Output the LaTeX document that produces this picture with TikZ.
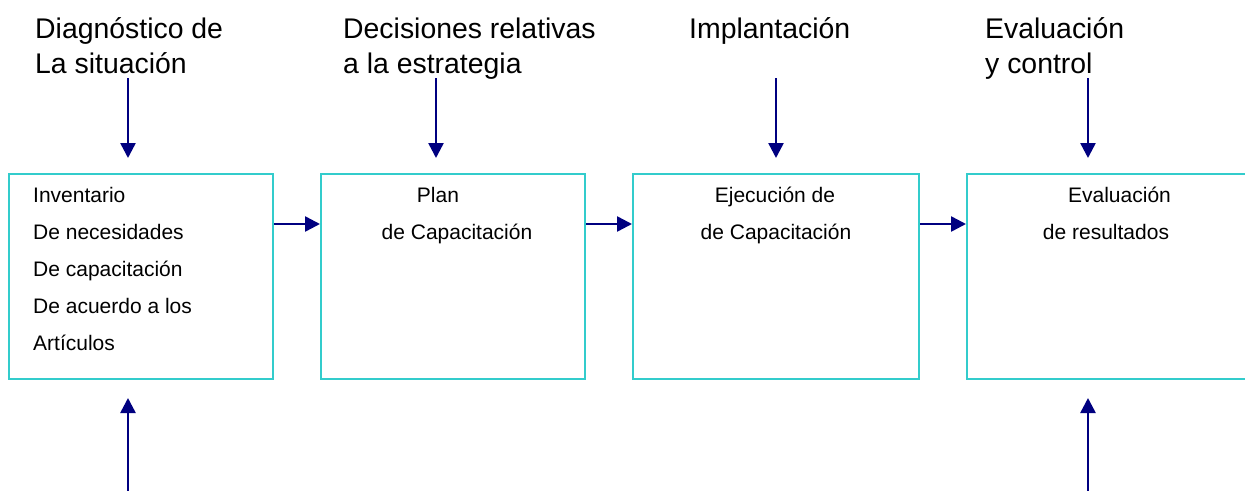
\documentclass[tikz,border=0pt]{standalone}
\usepackage{fontspec}
\setmainfont{Liberation Sans}
\usetikzlibrary{arrows.meta}
\definecolor{boxc}{HTML}{33CCCC}
\definecolor{arr}{HTML}{000080}
\begin{document}
\begin{tikzpicture}[x=1pt,y=-1pt,
  box/.style={draw=boxc,line width=2pt,anchor=north west,inner sep=0pt,minimum height=205pt},
  head/.style={anchor=base west,inner sep=0pt,font=\fontsize{28.4}{34}\selectfont},
  ltxt/.style={anchor=base west,inner sep=0pt,font=\fontsize{21}{25}\selectfont},
  ctxt/.style={anchor=base,inner sep=0pt,font=\fontsize{21}{25}\selectfont},
  conn/.style={draw=arr,line width=2.5pt,-{Triangle[length=15pt,width=15pt]}}]
\useasboundingbox (0,0) rectangle (1245,490);
\clip (0,0) rectangle (1245,490);
% boxes
\node[box,minimum width=264pt] (b1) at (8,173) {};
\node[box,minimum width=264pt] (b2) at (320,173) {};
\node[box,minimum width=286pt] (b3) at (632,173) {};
\node[box,minimum width=300pt] (b4) at (966,173) {};
% headings
\node[head] (h1a) at (35,38) {Diagnóstico de};
\node[head] (h1b) at (35,73) {La situación};
\node[head] (h2a) at (343,38) {Decisiones relativas};
\node[head] (h2b) at (343,73) {a la estrategia};
\node[head] (h3a) at (689,38) {Implantación};
\node[head] (h4a) at (985,38) {Evaluación};
\node[head] (h4b) at (985,73) {y control};
% box texts
\node[ltxt] (t11) at (33,202) {Inventario};
\node[ltxt] (t12) at (33,239) {De necesidades};
\node[ltxt] (t13) at (33,276) {De capacitación};
\node[ltxt] (t14) at (33,313) {De acuerdo a los};
\node[ltxt] (t15) at (33,350) {Artículos};
\node[ctxt] (t21) at (438,202) {Plan};
\node[ctxt] (t22) at (457,239) {de Capacitación};
\node[ctxt] (t31) at (775,202) {Ejecución de};
\node[ctxt] (t32) at (776,239) {de Capacitación};
\node[ctxt] (t41) at (1119.5,202) {Evaluación};
\node[ctxt] (t42) at (1106,239) {de resultados};
% horizontal connectors
\coordinate (hy) at (0,224);
\draw[conn] (b1.east |- hy) -- (b2.west |- hy);
\draw[conn] (b2.east |- hy) -- (b3.west |- hy);
\draw[conn] (b3.east |- hy) -- (b4.west |- hy);
% top connectors
\coordinate (s1) at (128,78);  \coordinate (e1) at (128,158);
\coordinate (s2) at (436,78);  \coordinate (e2) at (436,158);
\coordinate (s3) at (776,78);  \coordinate (e3) at (776,158);
\coordinate (s4) at (1088,78); \coordinate (e4) at (1088,158);
\draw[conn] (s1) -- (e1);
\draw[conn] (s2) -- (e2);
\draw[conn] (s3) -- (e3);
\draw[conn] (s4) -- (e4);
% bottom connectors
\coordinate (u1) at (128,495); \coordinate (v1) at (128,398);
\coordinate (u4) at (1088,495); \coordinate (v4) at (1088,398);
\draw[conn] (u1) -- (v1);
\draw[conn] (u4) -- (v4);
\end{tikzpicture}
\end{document}
